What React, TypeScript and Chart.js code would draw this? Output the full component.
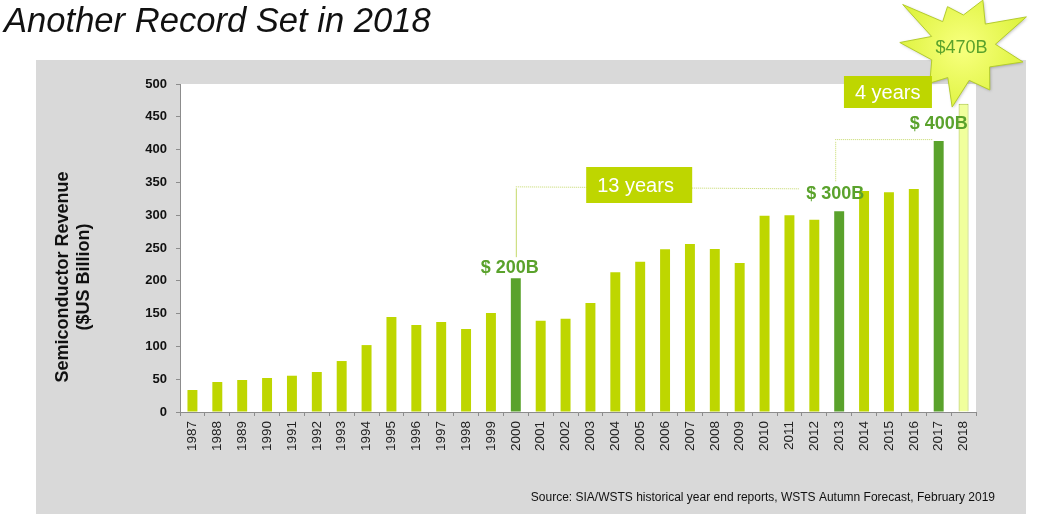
import React, { useEffect, useRef } from 'react';
import { Chart, registerables } from 'chart.js';

Chart.register(...registerables);

// Annual worldwide semiconductor revenue, $US billion
const years = [
  '1987', '1988', '1989', '1990', '1991', '1992', '1993', '1994', '1995', '1996', '1997',
  '1998', '1999', '2000', '2001', '2002', '2003', '2004', '2005', '2006', '2007', '2008',
  '2009', '2010', '2011', '2012', '2013', '2014', '2015', '2016', '2017', '2018',
];
const revenue = [
  33.5, 45.7, 48.8, 51.8, 55.3, 61, 77.7, 102, 144.8, 132.6, 137.2,
  126.5, 151, 204, 139, 142, 166, 213, 229, 248, 256, 248.5,
  227, 299, 300, 293, 306, 337, 335, 340, 413, 470,
];

// Years that first crossed a new $100B threshold, and their callouts
const milestoneYears = ['2000', '2013', '2017'];
const milestoneLabels = ['$ 200B', '$ 300B', '$ 400B'];
// Forecast year, drawn as an outlined bar with a starburst callout
const forecastYear = '2018';
const forecastLabel = '$470B';
// Spans between milestones and where their boxes sit
const spanLabels = ['13 years', '4 years'];
const spanBoxYears = ['2005', '2015'];

const yMin = 0;
const yMax = 500;
const yStep = 50;

const titleText = 'Another Record Set in 2018';
const yTitleLines = ['Semiconductor Revenue', '($US Billion)'];
const sourceText = 'Source: SIA/WSTS historical year end reports, WSTS Autumn Forecast, February 2019';

const FONT = '"Liberation Sans", Arial, Helvetica, sans-serif';
const LIGHT = '#bed600';
const DARK = '#5aa22c';
const LABEL_GREEN = '#5aa22c';
const CONNECTOR = '#c5d96a';

const W = 1041;
const H = 514;

const decorations = {
  id: 'decorations',
  beforeDraw(chart: any) {
    const { ctx, chartArea } = chart;
    ctx.save();
    ctx.fillStyle = '#ffffff';
    ctx.fillRect(0, 0, W, H);
    // grey panel behind the plot
    ctx.fillStyle = '#d9d9d9';
    ctx.fillRect(36, 60, 990, H - 60);
    // white plot area
    ctx.fillStyle = '#ffffff';
    ctx.fillRect(chartArea.left, chartArea.top, chartArea.right - chartArea.left, chartArea.bottom - chartArea.top);

    // slide title
    ctx.fillStyle = '#111111';
    ctx.font = `italic 34.6px ${FONT}`;
    ctx.textAlign = 'left';
    ctx.textBaseline = 'alphabetic';
    ctx.fillText(titleText, 4, 32);

    // y-axis title, two lines rotated
    ctx.save();
    ctx.translate(73, 277);
    ctx.rotate(-Math.PI / 2);
    ctx.font = `bold 18px ${FONT}`;
    ctx.fillStyle = '#111111';
    ctx.textAlign = 'center';
    ctx.textBaseline = 'middle';
    ctx.fillText(yTitleLines[0], 0, -10);
    ctx.fillText(yTitleLines[1], 0, 11);
    ctx.restore();

    // source note
    ctx.font = `12px ${FONT}`;
    ctx.fillStyle = '#111111';
    ctx.textAlign = 'right';
    ctx.textBaseline = 'middle';
    ctx.fillText(sourceText, 995, 498);
    ctx.restore();
  },
  afterDatasetsDraw(chart: any) {
    const { ctx } = chart;
    const x = chart.scales.x;
    const y = chart.scales.y;
    const cx = (yr: string) => x.getPixelForValue(years.indexOf(yr));
    const top = (yr: string) => y.getPixelForValue(revenue[years.indexOf(yr)]);

    ctx.save();

    // connector: 2000 -> 2013
    const x2000 = cx(milestoneYears[0]);
    const x2013 = cx(milestoneYears[1]);
    const x2017 = cx(milestoneYears[2]);
    const yA = y.getPixelForValue(344);
    ctx.strokeStyle = CONNECTOR;
    ctx.lineWidth = 1;
    ctx.beginPath();
    ctx.moveTo(x2000 + 0.5, yA + 2);
    ctx.lineTo(x2000 + 0.5, top(milestoneYears[0]) - 21);
    ctx.stroke();
    ctx.setLineDash([1, 1]);
    ctx.beginPath();
    ctx.moveTo(x2000, yA + 0.5);
    ctx.lineTo(x2013 - 40, yA + 2.5);
    ctx.stroke();

    // connector: 2013 -> 2017
    const yB = y.getPixelForValue(416);
    ctx.beginPath();
    ctx.moveTo(x2013 - 4 + 0.5, top(milestoneYears[1]) - 30);
    ctx.lineTo(x2013 - 4 + 0.5, yB + 2);
    ctx.stroke();
    ctx.beginPath();
    ctx.moveTo(x2013 - 4, yB + 0.5);
    ctx.lineTo(x2017 - 6, yB + 0.5);
    ctx.stroke();
    ctx.setLineDash([]);

    // milestone value callouts
    ctx.font = `bold 18px ${FONT}`;
    ctx.fillStyle = LABEL_GREEN;
    ctx.textAlign = 'center';
    ctx.textBaseline = 'middle';
    const offsets = [-6, -4, 0];
    milestoneYears.forEach((yr, i) => {
      ctx.fillText(milestoneLabels[i], cx(yr) + offsets[i], top(yr) - (i === 0 ? 10 : 17));
    });

    // starburst over the forecast bar
    const sx = cx(forecastYear) - 1;
    const sy = 48;
    const tips: [number, number][] = [
      [-175, 63], [-144, 74], [-110, 44], [-67, 52], [-26, 71],
      [13, 62], [57, 50], [100, 60], [133, 48],
    ];
    const inner = 33;
    ctx.beginPath();
    tips.forEach(([a, r], i) => {
      const next = tips[(i + 1) % tips.length][0];
      const mid = (a + (next < a ? next + 360 : next)) / 2;
      const ar = (a * Math.PI) / 180;
      const mr = (mid * Math.PI) / 180;
      const px = sx + r * Math.cos(ar);
      const py = sy + r * Math.sin(ar);
      if (i === 0) ctx.moveTo(px, py);
      else ctx.lineTo(px, py);
      ctx.lineTo(sx + inner * Math.cos(mr), sy + inner * Math.sin(mr));
    });
    ctx.closePath();
    const grad = ctx.createRadialGradient(sx, sy, 5, sx, sy, 70);
    grad.addColorStop(0, '#f6ff7a');
    grad.addColorStop(1, '#dcf23a');
    ctx.save();
    ctx.shadowColor = 'rgba(0,0,0,0.25)';
    ctx.shadowBlur = 3;
    ctx.shadowOffsetX = 1;
    ctx.shadowOffsetY = 1;
    ctx.fillStyle = grad;
    ctx.fill();
    ctx.restore();
    ctx.strokeStyle = '#b5cd2c';
    ctx.lineWidth = 1;
    ctx.stroke();
    ctx.font = `18px ${FONT}`;
    ctx.fillStyle = LABEL_GREEN;
    ctx.fillText(forecastLabel, sx - 1, sy);

    // span boxes
    const boxes = [
      { yr: spanBoxYears[0], w: 106, top: 167, h: 36 },
      { yr: spanBoxYears[1], w: 88, top: 76, h: 32 },
    ];
    ctx.font = `20px ${FONT}`;
    boxes.forEach((b, i) => {
      const bx = cx(b.yr) - b.w / 2 - 1;
      ctx.fillStyle = LIGHT;
      ctx.fillRect(bx, b.top, b.w, b.h);
      ctx.fillStyle = '#ffffff';
      ctx.textAlign = 'left';
      ctx.fillText(spanLabels[i], bx + 11, b.top + b.h / 2 + 1);
    });

    ctx.restore();
  },
};

export default function App() {
  const canvasRef = useRef<HTMLCanvasElement | null>(null);

  useEffect(() => {
    if (!canvasRef.current) return;
    const bg = years.map((yr) =>
      yr === forecastYear ? '#f0ff9c' : milestoneYears.includes(yr) ? DARK : LIGHT,
    );
    const border = years.map((yr) => (yr === forecastYear ? '#a8c43a' : 'rgba(0,0,0,0)'));
    const borderW = years.map((yr) => (yr === forecastYear ? 1 : 0));

    const chart = new Chart(canvasRef.current, {
      type: 'bar',
      data: {
        labels: years,
        datasets: [
          {
            data: revenue,
            backgroundColor: bg,
            borderColor: border,
            borderWidth: borderW,
            barPercentage: 0.4,
            categoryPercentage: 1,
          },
        ],
      },
      options: {
        responsive: false,
        animation: false,
        devicePixelRatio: 1,
        layout: { padding: { left: 0, top: 84, right: 65, bottom: 0 } },
        plugins: {
          legend: { display: false },
          tooltip: { enabled: false },
          title: { display: false },
        },
        scales: {
          x: {
            grid: { display: true, drawOnChartArea: false, tickLength: 4, tickColor: '#8c8c8c', offset: true },
            border: { display: true, color: '#8c8c8c', width: 1 },
            ticks: {
              autoSkip: false,
              minRotation: 90,
              maxRotation: 90,
              padding: 5,
              color: '#222222',
              font: { family: FONT, size: 13.5 },
            },
            afterFit: (s: any) => {
              s.height = 102;
            },
          },
          y: {
            min: yMin,
            max: yMax,
            grid: { display: true, drawOnChartArea: false, tickLength: 4, tickColor: '#8c8c8c' },
            border: { display: true, color: '#8c8c8c', width: 1 },
            ticks: {
              stepSize: yStep,
              padding: 9,
              color: '#111111',
              font: { family: FONT, size: 13, weight: 'bold' },
            },
            afterFit: (s: any) => {
              s.width = 180;
            },
          },
        },
      },
      plugins: [decorations],
    });
    return () => chart.destroy();
  }, []);

  return (
    <div style={{ position: 'absolute', left: 0, top: 0, width: W, height: H }}>
      <canvas ref={canvasRef} width={W} height={H} style={{ display: 'block' }} />
    </div>
  );
}
